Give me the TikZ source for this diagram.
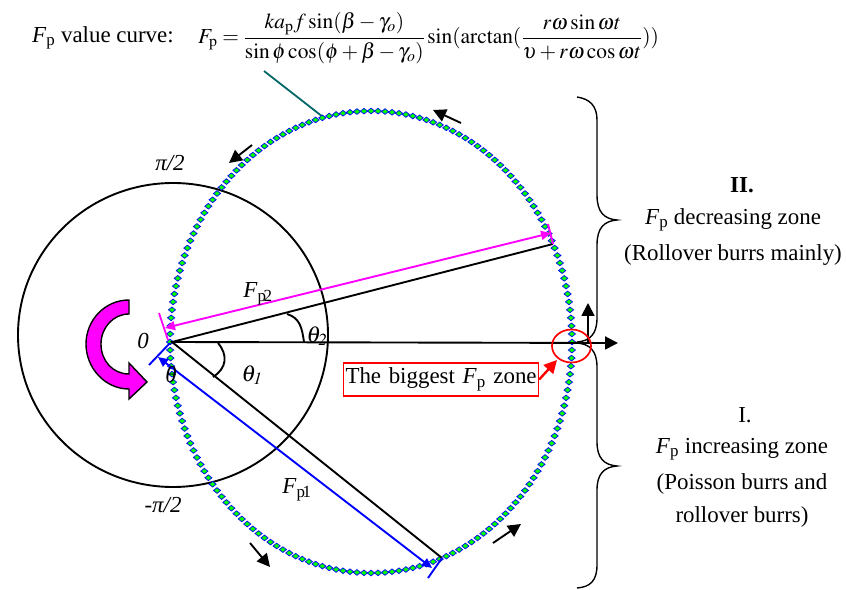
\documentclass[tikz,border=0pt]{standalone}
\usepackage{amsmath}
\usepackage{mathptmx}
\usepackage{fontspec}
\setmainfont{Liberation Serif}
\usetikzlibrary{arrows.meta,shapes.geometric}
\definecolor{pinkline}{RGB}{255,0,255}
\definecolor{dotgreen}{RGB}{0,255,0}
\tikzset{
  lbl/.style={font=\fontsize{23}{27}\selectfont,inner sep=0pt},
  blk/.style={draw=black,line width=1.9pt},
  tip/.style={-{Triangle[length=13pt,width=13pt]}},
  forcetips/.style={{Triangle[length=10pt,width=9pt]}-{Triangle[length=10pt,width=9pt]}},
  bracepath/.style={draw=black,line width=1.4pt},
  dot/.style={diamond,fill=dotgreen,draw=blue,line width=0.7pt,inner sep=0pt,minimum width=7.5pt,minimum height=6pt}
}
\newcommand{\Fp}{\textit{F}\textsubscript{p}}
\begin{document}
\begin{tikzpicture}[x=1bp,y=-1bp]
  \useasboundingbox (0,0) rectangle (846,590);
  % circle and value curve
  \draw[line width=1.9pt] (173,335) ellipse [x radius=155,y radius=152];
  \coordinate (O) at (172,342);
  \coordinate (A) at (553,244);
  \coordinate (B) at (442,558);
  \coordinate (axisend) at (618,343);
  \draw[teal!80!black,line width=1.8pt] (264,71) -- (323,117);
  \foreach \t in {0,2,...,358}
    \node[dot] at ({371+201*cos(\t)},{342+231*sin(\t)}) {};
  % radii
  \draw[blk] (A) -- (O) -- (B);
  \draw[blk,tip] (O) -- (axisend);
  \draw[blk] (218,343) .. controls (228,355) and (227,368) .. (213,377);
  \draw[blk] (287,314) .. controls (300,318) and (302,328) .. (304,342);
  % force arrows
  \draw[pinkline,line width=1.9pt] (159,313) -- (168,340);
  \draw[pinkline,line width=1.9pt] (548,224) -- (553,244);
  \draw[pinkline,line width=1.9pt,forcetips] (165,328) -- (551,233);
  \draw[blue,line width=1.9pt] (149,365) -- (170,343);
  \draw[blue,line width=1.9pt] (428,578) -- (442,558);
  \draw[blue,line width=1.9pt,forcetips] (158,357) -- (432,568);
  % rotation arrow
  \draw[black,fill=pinkline,line width=1.4pt] (129,300) .. controls (105,300) and (86,320) .. (86,344) .. controls (86,368) and (105,389) .. (129,389) -- (129,399) -- (147,382) -- (129,363) -- (129,374) .. controls (113,374) and (101,361) .. (101,344) .. controls (101,328) and (113,314) .. (129,314) -- cycle;
  % direction arrows
  \draw[blk,tip] (461,123) -- (433,110);
  \draw[blk,tip] (252,145) -- (229,163);
  \draw[blk,tip] (250,543) -- (270,567);
  \draw[blk,tip] (493,543) -- (521,524);
  \draw[blk,tip] (588,342) -- (588,303);
  % zones
  \draw[bracepath] (577,97) .. controls (590,99) and (597,106) .. (597,120) -- (597,195) .. controls (597,212) and (604,219) .. (617,220) .. controls (604,221) and (597,228) .. (597,245) -- (597,318) .. controls (597,334) and (590,341) .. (577,342);
  \draw[bracepath] (577,343) .. controls (590,344) and (597,351) .. (597,367) -- (597,442) .. controls (597,458) and (604,465) .. (617,466) .. controls (604,467) and (597,474) .. (597,490) -- (597,565) .. controls (597,581) and (590,587) .. (577,588);
  % biggest zone
  \draw[red,line width=1.7pt] (571.5,346) ellipse [x radius=19.5,y radius=16.5];
  \node[lbl,draw=red,line width=1.4pt,text width=191bp,align=left,inner xsep=2bp,minimum height=33bp] (zone) at (441,379.5) {\mbox{The biggest \Fp{} zone}};
  \coordinate (zonetip) at (557,360);
  \draw[red,line width=2.4pt,-{Triangle[length=13pt,width=13pt]}] (zone.east) -- (zonetip);
  % labels
  \node[lbl,anchor=west] (title) at (32,38) {\Fp{} value curve:};
  \node[anchor=west,inner sep=0pt,font=\fontsize{21.5}{25}\selectfont] (formula) at (198,38) {$F_{\mathrm{p}}=\dfrac{ka_{\mathrm{p}}f\sin(\beta-\gamma_o)}{\sin\phi\cos(\phi+\beta-\gamma_o)}\sin(\arctan(\dfrac{r\omega\sin\omega t}{\upsilon+r\omega\cos\omega t}))$};
  \node[lbl] (origin) at (143,341) {\textit{0}};
  \node[lbl] (thetazero) at (171,375) {\textit{θ}};
  \node[lbl] (thetaone) at (252,375) {$\theta_{\mathit{1}}$};
  \node[lbl] (thetatwo) at (317,336) {$\theta_{\mathit{2}}$};
  \node[lbl] (fptwo) at (258,294) {\Fp\textsubscript{\!2}};
  \node[lbl] (fpone) at (297,490) {\Fp\textsubscript{\!1}};
  \node[lbl] (piup) at (170,163) {\textit{π/2}};
  \node[lbl] (pidown) at (163,505) {\textit{-π/2}};
  \node[lbl] (numtwo) at (742,185) {\textbf{II.}};
  \node[lbl] (dec) at (733,220) {\Fp{} decreasing zone};
  \node[lbl] (roll) at (733,255) {(Rollover burrs mainly)};
  \node[lbl] (numone) at (745,415) {I.};
  \node[lbl] (inc) at (742,449) {\Fp{} increasing zone};
  \node[lbl] (pois) at (742,484) {(Poisson burrs and};
  \node[lbl] (rollb) at (742,517) {rollover burrs)};
\end{tikzpicture}
\end{document}
